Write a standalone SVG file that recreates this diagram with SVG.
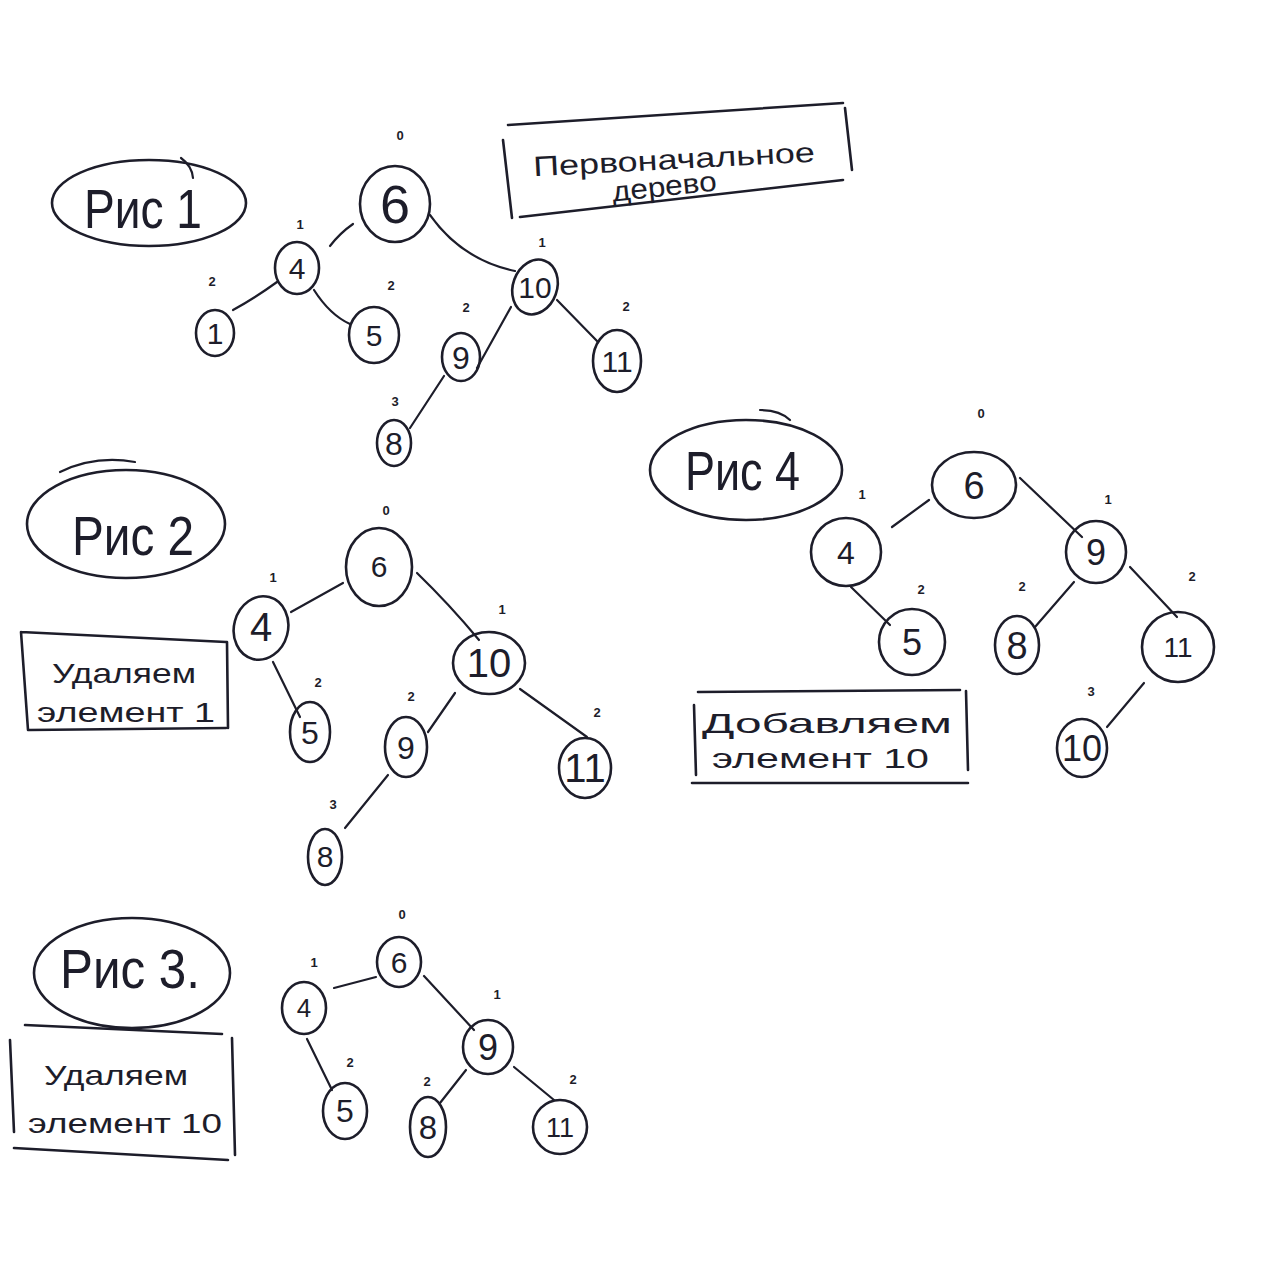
<svg xmlns="http://www.w3.org/2000/svg" width="1280" height="1264" viewBox="0 0 1280 1264">
<style>
.bg{fill:#ffffff}
.n{fill:none;stroke:#1d1d2a;stroke-width:2.6}
.e{fill:none;stroke:#1d1d2a;stroke-width:2.2;stroke-linecap:round}
.b{fill:none;stroke:#1d1d2a;stroke-width:2.6;stroke-linecap:round}
.t{font-family:"Liberation Sans","DejaVu Sans",sans-serif;fill:#1d1d2a;text-anchor:middle}
.d{font-family:"Liberation Sans","DejaVu Sans",sans-serif;fill:#1d1d2a;text-anchor:middle;font-size:13px;font-weight:bold}
.h{font-family:"Liberation Sans","DejaVu Sans",sans-serif;fill:#1d1d2a;font-size:56px}
.w{font-family:"Liberation Sans","DejaVu Sans",sans-serif;fill:#1d1d2a;font-size:28px}
</style>
<rect class="bg" x="0" y="0" width="1280" height="1264"/>

<!-- Figure captions -->
<g id="cap1">
<ellipse class="n" cx="149" cy="203" rx="97" ry="43"/>
<path class="e" d="M181 158 Q192 166 193 178"/>
<text class="h" x="84" y="228" textLength="118" lengthAdjust="spacingAndGlyphs">Рис 1</text>
</g>
<g id="cap2">
<ellipse class="n" cx="126" cy="524" rx="99" ry="54"/>
<path class="e" d="M60 472 Q95 455 135 462"/>
<text class="h" x="72" y="555" textLength="122" lengthAdjust="spacingAndGlyphs">Рис 2</text>
</g>
<g id="cap3">
<ellipse class="n" cx="132" cy="973" rx="98" ry="55"/>
<text class="h" x="60" y="988" textLength="140" lengthAdjust="spacingAndGlyphs">Рис 3.</text>
</g>
<g id="cap4">
<ellipse class="n" cx="746" cy="470" rx="96" ry="50"/>
<path class="e" d="M760 410 Q780 410 790 420"/>
<text class="h" x="685" y="490" textLength="115" lengthAdjust="spacingAndGlyphs">Рис 4</text>
</g>

<!-- Note boxes -->
<g id="note1">
<path class="b" d="M508 125 L843 103 M845 108 L852 170 M520 217 L843 180 M503 140 L512 218"/>
<text class="w" x="533" y="169" font-size="30" textLength="282" lengthAdjust="spacingAndGlyphs" transform="rotate(-3 674 160)">Первоначальное</text>
<text class="w" x="612" y="196" font-size="26" textLength="105" lengthAdjust="spacingAndGlyphs" transform="rotate(-6 664 190)">дерево</text>
</g>
<g id="note2">
<path class="b" d="M21 632 L226 642 M227 642 L228 728 M29 730 L226 728 M21 632 L28 730"/>
<text class="w" x="52" y="683" textLength="144" lengthAdjust="spacingAndGlyphs">Удаляем</text>
<text class="w" x="37" y="722" textLength="178" lengthAdjust="spacingAndGlyphs">элемент 1</text>
</g>
<g id="note3">
<path class="b" d="M25 1025 L222 1034 M232 1038 L235 1155 M14 1148 L228 1160 M10 1040 L14 1132"/>
<text class="w" x="44" y="1085" font-size="30" textLength="144" lengthAdjust="spacingAndGlyphs">Удаляем</text>
<text class="w" x="28" y="1133" font-size="30" textLength="194" lengthAdjust="spacingAndGlyphs">элемент 10</text>
</g>
<g id="note4">
<path class="b" d="M698 692 L960 690 M966 691 L968 770 M692 783 L968 783 M694 705 L696 775"/>
<text class="w" x="702" y="733" textLength="250" lengthAdjust="spacingAndGlyphs">Добавляем</text>
<text class="w" x="712" y="768" textLength="217" lengthAdjust="spacingAndGlyphs">элемент 10</text>
</g>

<!-- Connectors -->
<g id="connectors">
<!-- Fig 1 -->
<path class="e" d="M353 224 Q340 233 330 246"/>
<path class="e" d="M277 282 Q255 298 233 310"/>
<path class="e" d="M314 290 Q330 315 350 324"/>
<path class="e" d="M430 215 Q462 260 515 271"/>
<path class="e" d="M511 307 L477 368"/>
<path class="e" d="M557 300 L598 342"/>
<path class="e" d="M444 376 L410 428"/>
<!-- Fig 2 -->
<path class="e" d="M343 583 L291 612"/>
<path class="e" d="M273 662 L300 717"/>
<path class="e" d="M417 573 Q450 605 479 640"/>
<path class="e" d="M455 693 L428 732"/>
<path class="e" d="M520 689 L587 737"/>
<path class="e" d="M388 775 L345 828"/>
<!-- Fig 3 -->
<path class="e" d="M334 988 L376 977"/>
<path class="e" d="M424 976 L474 1030"/>
<path class="e" d="M307 1039 L332 1090"/>
<path class="e" d="M466 1070 L440 1103"/>
<path class="e" d="M514 1067 L554 1100"/>
<!-- Fig 4 -->
<path class="e" d="M929 500 L892 527"/>
<path class="e" d="M1020 478 L1082 537"/>
<path class="e" d="M851 587 L890 625"/>
<path class="e" d="M1074 582 L1035 627"/>
<path class="e" d="M1130 567 L1177 617"/>
<path class="e" d="M1144 683 L1107 727"/>
</g>

<!-- Fig 1 nodes -->
<g id="f1-n6"><ellipse class="n" cx="395" cy="204" rx="35" ry="38"/><text class="t" x="395" y="223" font-size="54">6</text></g>
<g id="f1-n4"><ellipse class="n" cx="297" cy="268" rx="22" ry="26"/><text class="t" x="297" y="279" font-size="30">4</text></g>
<g id="f1-n1"><ellipse class="n" cx="215" cy="333" rx="19" ry="23"/><text class="t" x="215" y="344" font-size="30">1</text></g>
<g id="f1-n5"><ellipse class="n" cx="374" cy="335" rx="25" ry="28"/><text class="t" x="374" y="346" font-size="30">5</text></g>
<g id="f1-n10"><ellipse class="n" cx="535" cy="287" rx="22" ry="28" transform="rotate(20 535 287)"/><text class="t" x="535" y="298" font-size="30">10</text></g>
<g id="f1-n9"><ellipse class="n" cx="461" cy="357" rx="19" ry="24"/><text class="t" x="461" y="369" font-size="32">9</text></g>
<g id="f1-n11"><ellipse class="n" cx="617" cy="361" rx="24" ry="31"/><text class="t" x="617" y="372" font-size="30">11</text></g>
<g id="f1-n8"><ellipse class="n" cx="394" cy="443" rx="17" ry="23"/><text class="t" x="394" y="455" font-size="32">8</text></g>
<g id="f1-depth">
<text class="d" x="400" y="140">0</text>
<text class="d" x="300" y="229">1</text>
<text class="d" x="212" y="286">2</text>
<text class="d" x="391" y="290">2</text>
<text class="d" x="542" y="247">1</text>
<text class="d" x="466" y="312">2</text>
<text class="d" x="626" y="311">2</text>
<text class="d" x="395" y="406">3</text>
</g>

<!-- Fig 2 nodes -->
<g id="f2-n6"><ellipse class="n" cx="379" cy="567" rx="33" ry="39"/><text class="t" x="379" y="577" font-size="30">6</text></g>
<g id="f2-n4"><ellipse class="n" cx="261" cy="628" rx="27" ry="32" transform="rotate(15 261 628)"/><text class="t" x="261" y="641" font-size="40">4</text></g>
<g id="f2-n10"><ellipse class="n" cx="489" cy="663" rx="36" ry="31"/><text class="t" x="489" y="677" font-size="40">10</text></g>
<g id="f2-n5"><ellipse class="n" cx="310" cy="732" rx="20" ry="30"/><text class="t" x="310" y="744" font-size="32">5</text></g>
<g id="f2-n9"><ellipse class="n" cx="406" cy="747" rx="21" ry="30"/><text class="t" x="406" y="759" font-size="32">9</text></g>
<g id="f2-n11"><ellipse class="n" cx="585" cy="768" rx="26" ry="30"/><text class="t" x="585" y="782" font-size="40">11</text></g>
<g id="f2-n8"><ellipse class="n" cx="325" cy="857" rx="17" ry="28"/><text class="t" x="325" y="867" font-size="30">8</text></g>
<g id="f2-depth">
<text class="d" x="386" y="515">0</text>
<text class="d" x="273" y="582">1</text>
<text class="d" x="502" y="614">1</text>
<text class="d" x="318" y="687">2</text>
<text class="d" x="411" y="701">2</text>
<text class="d" x="333" y="809">3</text>
<text class="d" x="597" y="717">2</text>
</g>

<!-- Fig 3 nodes -->
<g id="f3-n6"><ellipse class="n" cx="399" cy="962" rx="22" ry="25"/><text class="t" x="399" y="973" font-size="30">6</text></g>
<g id="f3-n4"><ellipse class="n" cx="304" cy="1008" rx="22" ry="26"/><text class="t" x="304" y="1017" font-size="26">4</text></g>
<g id="f3-n9"><ellipse class="n" cx="488" cy="1047" rx="25" ry="27"/><text class="t" x="488" y="1060" font-size="36">9</text></g>
<g id="f3-n5"><ellipse class="n" cx="345" cy="1111" rx="22" ry="28"/><text class="t" x="345" y="1122" font-size="32">5</text></g>
<g id="f3-n8"><ellipse class="n" cx="428" cy="1127" rx="18" ry="30"/><text class="t" x="428" y="1139" font-size="33">8</text></g>
<g id="f3-n11"><ellipse class="n" cx="560" cy="1127" rx="27" ry="27"/><text class="t" x="560" y="1137" font-size="27">11</text></g>
<g id="f3-depth">
<text class="d" x="402" y="919">0</text>
<text class="d" x="314" y="967">1</text>
<text class="d" x="497" y="999">1</text>
<text class="d" x="350" y="1067">2</text>
<text class="d" x="427" y="1086">2</text>
<text class="d" x="573" y="1084">2</text>
</g>

<!-- Fig 4 nodes -->
<g id="f4-n6"><ellipse class="n" cx="974" cy="485" rx="42" ry="33"/><text class="t" x="974" y="499" font-size="38">6</text></g>
<g id="f4-n4"><ellipse class="n" cx="846" cy="552" rx="35" ry="34"/><text class="t" x="846" y="564" font-size="32">4</text></g>
<g id="f4-n9"><ellipse class="n" cx="1096" cy="552" rx="30" ry="31"/><text class="t" x="1096" y="565" font-size="36">9</text></g>
<g id="f4-n5"><ellipse class="n" cx="912" cy="642" rx="33" ry="33"/><text class="t" x="912" y="655" font-size="36">5</text></g>
<g id="f4-n8"><ellipse class="n" cx="1017" cy="645" rx="22" ry="29"/><text class="t" x="1017" y="659" font-size="38">8</text></g>
<g id="f4-n11"><ellipse class="n" cx="1178" cy="647" rx="36" ry="35"/><text class="t" x="1178" y="657" font-size="28">11</text></g>
<g id="f4-n10"><ellipse class="n" cx="1082" cy="748" rx="25" ry="29"/><text class="t" x="1082" y="761" font-size="36">10</text></g>
<g id="f4-depth">
<text class="d" x="981" y="418">0</text>
<text class="d" x="862" y="499">1</text>
<text class="d" x="1108" y="504">1</text>
<text class="d" x="921" y="594">2</text>
<text class="d" x="1022" y="591">2</text>
<text class="d" x="1192" y="581">2</text>
<text class="d" x="1091" y="696">3</text>
</g>
</svg>
